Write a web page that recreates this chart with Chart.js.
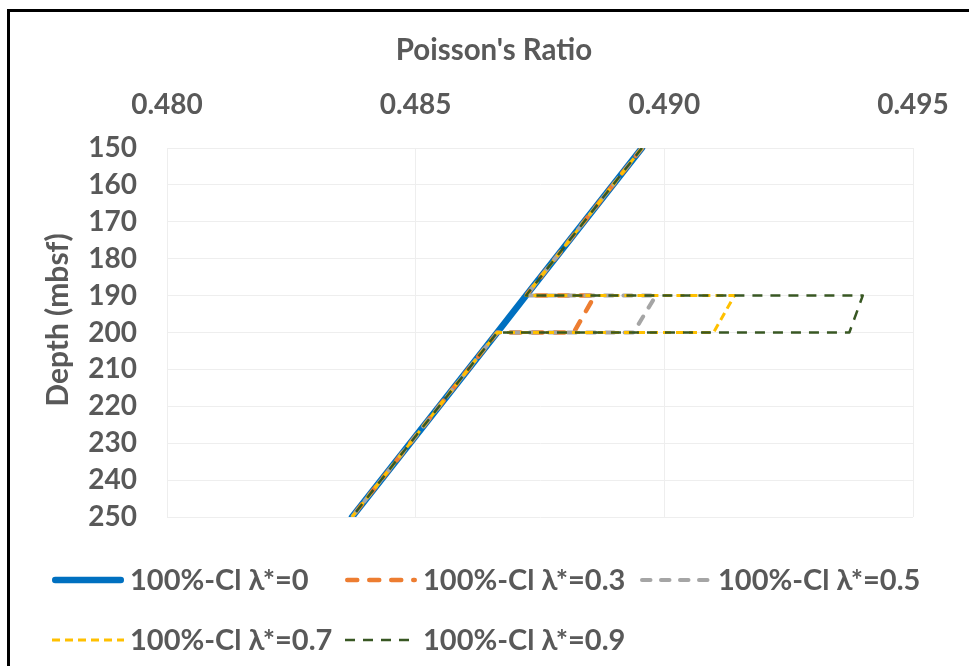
<!DOCTYPE html>
<html>
<head>
<meta charset="utf-8">
<script src="https://cdn.jsdelivr.net/npm/chart.js@4/dist/chart.umd.min.js"></script>
<style>
html,body{margin:0;padding:0;background:#fff;}
#wrap{position:relative;width:969px;height:666px;}
</style>
</head>
<body>
<div id="wrap"><canvas id="c" width="969" height="666"></canvas></div>
<script>
// ---- data ----
const seriesNames = ['100%-Cl λ*=0', '100%-Cl λ*=0.3', '100%-Cl λ*=0.5', '100%-Cl λ*=0.7', '100%-Cl λ*=0.9'];
const depthBase = [150, 190, 200, 250];
const ratioBase = [0.48955, 0.48722, 0.48664, 0.48372];
const depthStep = [150, 190, 190, 200, 200, 250];
const ratio03 = [0.48955, 0.48722, 0.48860, 0.48818, 0.48664, 0.48372];
const ratio05 = [0.48955, 0.48722, 0.48983, 0.48938, 0.48664, 0.48372];
const ratio07 = [0.48955, 0.48722, 0.49141, 0.49099, 0.48664, 0.48372];
const ratio09 = [0.48955, 0.48722, 0.49399, 0.49372, 0.48664, 0.48372];
const xTickValues = [0.480, 0.485, 0.490, 0.495];
const yTickValues = [150, 160, 170, 180, 190, 200, 210, 220, 230, 240, 250];
const xTitle = "Poisson's Ratio";
const yTitle = 'Depth (mbsf)';

const pts = (xs, ys) => xs.map((x, i) => ({x: x, y: ys[i]}));

const TXT = '#595959';
const GRID = '#eeeeee';
const FAM = 'Lato, "Open Sans", sans-serif';
Chart.defaults.font.family = FAM;
Chart.defaults.font.weight = 'bold';
Chart.defaults.color = TXT;

const styles = [
  {color: '#0070C0', width: 6.5, dash: [], cap: 'round', order: 5},
  {color: '#ED7D31', width: 4.5, dash: [10, 12], cap: 'round', order: 4},
  {color: '#A5A5A5', width: 4, dash: [8.5, 10.5], cap: 'round', order: 3},
  {color: '#FFC000', width: 3, dash: [8, 5], cap: 'butt', order: 2},
  {color: '#385723', width: 2.5, dash: [10, 8], cap: 'butt', order: 1}
];
const seriesData = [
  pts(ratioBase, depthBase),
  pts(ratio03, depthStep),
  pts(ratio05, depthStep),
  pts(ratio07, depthStep),
  pts(ratio09, depthStep)
];

const datasets = seriesNames.map((name, i) => ({
  label: name,
  data: seriesData[i],
  showLine: true,
  borderColor: styles[i].color,
  backgroundColor: styles[i].color,
  borderWidth: styles[i].width,
  borderDash: styles[i].dash,
  borderCapStyle: styles[i].cap,
  borderJoinStyle: 'round',
  pointRadius: 0,
  pointHoverRadius: 0,
  tension: 0,
  order: styles[i].order,
  clip: 0
}));

const frameAndLegend = {
  id: 'frameAndLegend',
  beforeDraw(chart) {
    const ctx = chart.ctx;
    ctx.save();
    ctx.fillStyle = '#ffffff';
    ctx.fillRect(0, 0, chart.width, chart.height);
    ctx.restore();
  },
  afterDraw(chart, args, opts) {
    const ctx = chart.ctx;
    const area = chart.chartArea;
    ctx.save();
    // axis titles
    ctx.fillStyle = TXT;
    ctx.textAlign = 'center';
    ctx.textBaseline = 'middle';
    ctx.font = 'bold ' + opts.xTitleSize + 'px ' + FAM;
    ctx.fillText(xTitle, opts.xTitleX, opts.xTitleY);
    ctx.save();
    ctx.translate(opts.yTitleX, opts.yTitleY);
    ctx.rotate(-Math.PI / 2);
    ctx.font = 'bold ' + opts.yTitleSize + 'px ' + FAM;
    ctx.fillText(yTitle, 0, 0);
    ctx.restore();
    // legend
    chart.data.datasets.forEach((ds, i) => {
      const col = i % 3, row = Math.floor(i / 3);
      const x0 = opts.cols[col], y = opts.rows[row];
      ctx.save();
      ctx.strokeStyle = ds.borderColor;
      ctx.lineWidth = ds.borderWidth;
      ctx.lineCap = ds.borderCapStyle || 'butt';
      ctx.setLineDash(ds.borderDash || []);
      const cap = ds.borderCapStyle === 'round' ? ds.borderWidth / 2 : 0;
      ctx.beginPath();
      ctx.moveTo(x0 + cap, y);
      ctx.lineTo(x0 + opts.sampleWidth - cap, y);
      ctx.stroke();
      ctx.setLineDash([]);
      ctx.fillStyle = TXT;
      ctx.font = 'bold ' + opts.fontSize + 'px ' + FAM;
      ctx.textBaseline = 'middle';
      ctx.textAlign = 'left';
      ctx.fillText(ds.label, x0 + opts.sampleWidth + opts.gap, y + 1);
      ctx.restore();
    });
    // chart frame (left and top edges visible)
    ctx.fillStyle = '#000000';
    ctx.fillRect(7, 9, 3, chart.height - 9);
    ctx.fillRect(7, 9, chart.width - 7, 3);
    ctx.restore();
  }
};

new Chart(document.getElementById('c'), {
  type: 'scatter',
  data: {datasets: datasets},
  plugins: [frameAndLegend],
  options: {
    responsive: false,
    animation: false,
    devicePixelRatio: 1,
    layout: {padding: {left: 10, top: 14, right: 56, bottom: 149}},
    plugins: {
      legend: {display: false},
      tooltip: {enabled: false},
      frameAndLegend: {
        cols: [52, 345, 640], rows: [580, 640], sampleWidth: 72, gap: 6, fontSize: 29,
        xTitleX: 494, xTitleY: 50, xTitleSize: 29.5,
        yTitleX: 58, yTitleY: 320, yTitleSize: 30
      }
    },
    scales: {
      x: {
        type: 'linear',
        position: 'top',
        min: 0.480,
        max: 0.495,
        afterBuildTicks: (axis) => { axis.ticks = xTickValues.map(v => ({value: v})); },
        afterFit: (axis) => { axis.height = 134; axis.paddingLeft = 0; axis.paddingRight = 0; },
        ticks: {
          callback: (v) => Number(v).toFixed(3),
          font: {size: 28, weight: 'bold'},
          color: TXT,
          padding: 26,
          maxRotation: 0
        },
        grid: {color: GRID, lineWidth: 1, drawTicks: false},
        border: {color: GRID, width: 1},
        title: {display: false}
      },
      y: {
        type: 'linear',
        position: 'left',
        reverse: true,
        min: 150,
        max: 250,
        afterBuildTicks: (axis) => { axis.ticks = yTickValues.map(v => ({value: v})); },
        afterFit: (axis) => { axis.width = 157; axis.paddingTop = 0; axis.paddingBottom = 0; },
        ticks: {
          font: {size: 28, weight: 'bold'},
          color: TXT,
          padding: 30
        },
        grid: {color: GRID, lineWidth: 1, drawTicks: false},
        border: {color: GRID, width: 1},
        title: {display: false}
      }
    }
  }
});
</script>
</body>
</html>
